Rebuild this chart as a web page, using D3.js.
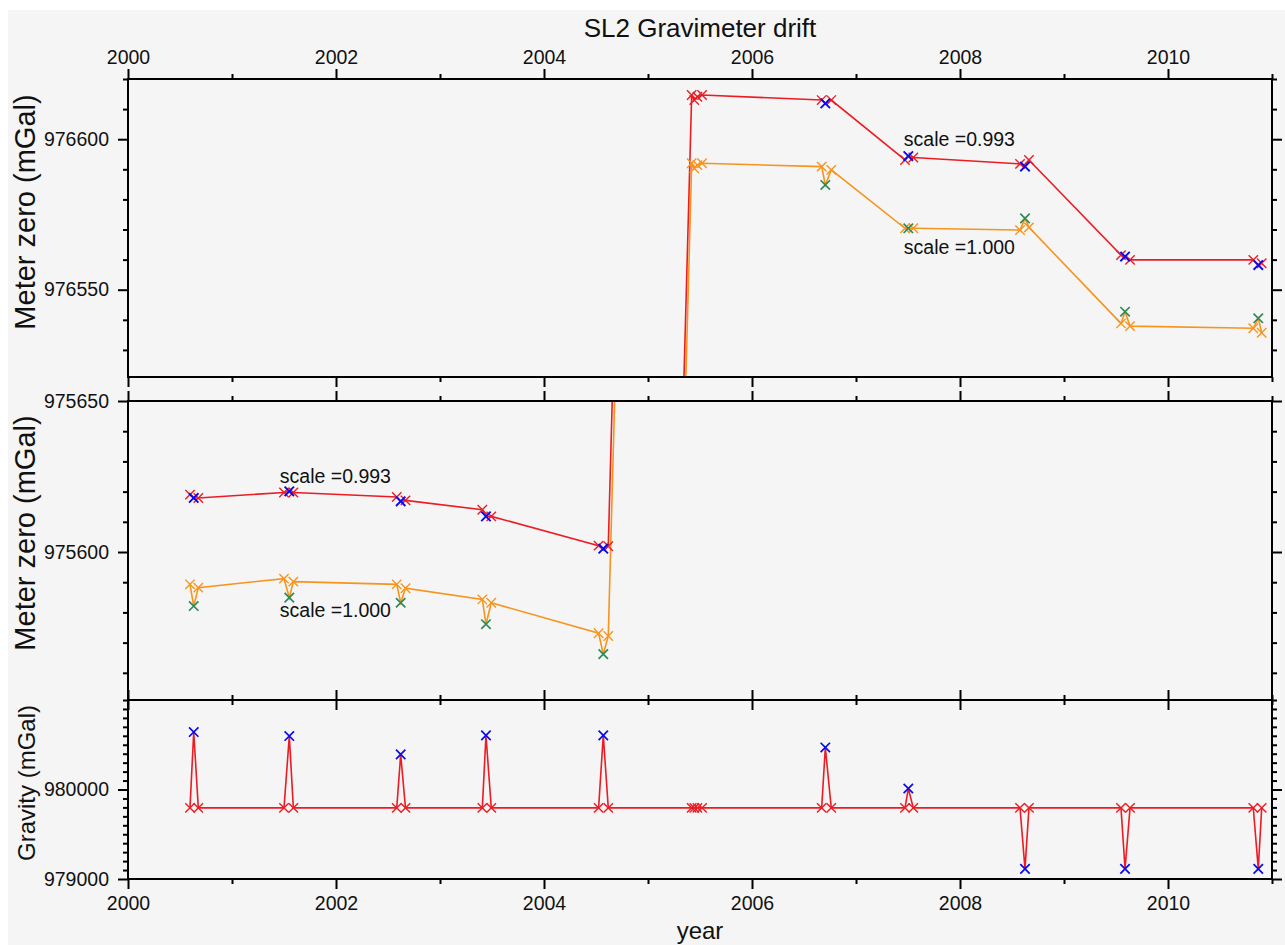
<!DOCTYPE html>
<html><head><meta charset="utf-8">
<script src="https://cdn.jsdelivr.net/npm/d3@7"></script>
<style>
html,body{margin:0;padding:0;background:#fff;}
svg{display:block;}
text{font-family:"Liberation Sans",Arial,Helvetica,sans-serif;fill:#111;}
</style></head><body>
<svg id="c" width="1285" height="945"></svg>
<script>
// ---------------- data ----------------
const baseTimes1   = [2000.596, 2001.500, 2002.584, 2003.407, 2004.525, 2006.670, 2007.471, 2008.577, 2009.548, 2010.820];
const stationTimes = [2000.632, 2001.551, 2002.622, 2003.442, 2004.570, 2006.705, 2007.503, 2008.625, 2009.587, 2010.868];
const baseTimes2   = [2000.676, 2001.590, 2002.668, 2003.493, 2004.618, 2006.762, 2007.551, 2008.663, 2009.635, 2010.901];
const clusterTimes = [2005.420, 2005.445, 2005.475, 2005.520];

// meter zero, scale = 0.993 (red line, blue station marks)
const redBase1    = [975619.0, 975619.7, 975618.2, 975614.0, 975602.1, 976613.0, 976593.1, 976591.8, 976561.5, 976559.9];
const redStation  = [975617.9, 975620.1, 975616.8, 975611.8, 975601.1, 976611.9, 976594.4, 976590.9, 976561.0, 976558.2];
const redBase2    = [975617.9, 975619.7, 975617.1, 975611.8, 975601.9, 976613.0, 976593.9, 976593.1, 976559.9, 976558.8];
const redCluster  = [976614.7, 976613.0, 976614.1, 976614.7];

// meter zero, scale = 1.000 (orange line, green station marks)
const orangeBase1   = [975589.3, 975591.2, 975589.3, 975584.3, 975573.1, 976590.9, 976570.4, 976569.8, 976538.8, 976537.2];
const greenStation  = [975582.1, 975584.9, 975583.2, 975576.1, 975566.2, 976584.8, 976570.4, 976573.7, 976542.7, 976540.5];
const orangeBase2   = [975588.2, 975590.2, 975588.0, 975583.2, 975572.2, 976589.8, 976570.4, 976570.7, 976537.9, 976535.7];
const orangeCluster = [976592.0, 976590.3, 976591.4, 976592.0];

// gravity (mGal)
const gravBase1   = [979795, 979795, 979795, 979795, 979795, 979795, 979795, 979795, 979795, 979795];
const gravStation = [980642, 980597, 980392, 980605, 980605, 980470, 980011, 979113, 979113, 979113];
const gravBase2   = [979795, 979795, 979795, 979795, 979795, 979795, 979795, 979795, 979795, 979795];
const gravCluster = [979795, 979795, 979795, 979795];

// ticks
const xMajor = [2000, 2002, 2004, 2006, 2008, 2010];
const xMinor = [2001, 2003, 2005, 2007, 2009, 2011];
const topMajor = [976550, 976600];
const topMinor = [976530, 976540, 976560, 976570, 976580, 976590, 976610, 976620];
const midMajor = [975600, 975650];
const midMinor = [975560, 975570, 975580, 975590, 975610, 975620, 975630, 975640];
const botMajor = [979000, 980000];
const botMinor = d3.range(979100, 981001, 100).filter(v => v !== 980000);

const scaleLabels = [
  {panel:0, t:2007.46, v:976597.6, text:"scale =0.993"},
  {panel:0, t:2007.46, v:976562.0, text:"scale =1.000"},
  {panel:1, t:2001.46, v:975622.8, text:"scale =0.993"},
  {panel:1, t:2001.46, v:975578.4, text:"scale =1.000"}
];

// ---------------- build ----------------
function seqOf(b1, st, b2, cl) {
  const s = [];
  for (let i = 0; i < b1.length; i++) {
    s.push({t: baseTimes1[i], v: b1[i], k: "b"});
    s.push({t: stationTimes[i], v: st[i], k: "s"});
    s.push({t: baseTimes2[i], v: b2[i], k: "b"});
  }
  clusterTimes.forEach((t, j) => s.push({t, v: cl[j], k: "b"}));
  return s.sort((a, b) => a.t - b.t);
}
const redSeq = seqOf(redBase1, redStation, redBase2, redCluster);
const orangeSeq = seqOf(orangeBase1, greenStation, orangeBase2, orangeCluster);
const gravSeq = seqOf(gravBase1, gravStation, gravBase2, gravCluster);

const svg = d3.select("#c");
svg.append("rect").attr("x", 8).attr("y", 10).attr("width", 1285 - 8).attr("height", 945 - 10).attr("fill", "#f5f5f5");

const X0 = 128, X1 = 1272;
const x = d3.scaleLinear().domain([2000, 2011]).range([X0, X1]);

const panels = [
  {y0: 79, y1: 377, domain: [976521, 976620], major: topMajor, minor: topMinor, title: "Meter zero (mGal)", ty: 212, fs: 29},
  {y0: 401, y1: 700, domain: [975551, 975650], major: midMajor, minor: midMinor, title: "Meter zero (mGal)", ty: 533, fs: 29},
  {y0: 700, y1: 879, domain: [979000, 981000], major: botMajor, minor: botMinor, title: "Gravity (mGal)", ty: 783, fs: 24}
];
panels.forEach(p => p.y = d3.scaleLinear().domain(p.domain).range([p.y1, p.y0]));

const RED = "#ec1c24", ORANGE = "#f7941d", BLUE = "#0a0aee", GREEN = "#2e8b57";
const cross = "M-4.7,-4.7L4.7,4.7M-4.7,4.7L4.7,-4.7";

function styleAxis(g, labels, fs) {
  g.select(".domain").remove();
  g.selectAll(".tick line").attr("stroke", "#000").attr("stroke-width", 2);
  g.selectAll(".tick text").attr("fill", "#111").style("font-size", fs + "px")
   .style("font-family", '"Liberation Sans",Arial,Helvetica,sans-serif');
  if (!labels) g.selectAll(".tick text").remove();
}

panels.forEach((p, i) => {
  const clipId = "clip" + i;
  svg.append("clipPath").attr("id", clipId).append("rect")
    .attr("x", X0).attr("y", p.y0).attr("width", X1 - X0).attr("height", p.y1 - p.y0);
  const g = svg.append("g").attr("clip-path", `url(#${clipId})`);

  const line = d3.line().x(d => x(d.t)).y(d => p.y(d.v));
  if (i < 2) {
    g.append("path").datum(orangeSeq).attr("d", line).attr("fill", "none").attr("stroke", ORANGE).attr("stroke-width", 1.6);
    g.append("path").datum(redSeq).attr("d", line).attr("fill", "none").attr("stroke", RED).attr("stroke-width", 1.6);
    g.selectAll(".ob").data(orangeSeq.filter(d => d.k === "b")).join("path")
      .attr("d", cross).attr("transform", d => `translate(${x(d.t)},${p.y(d.v)})`)
      .attr("stroke", ORANGE).attr("stroke-width", 1.4).attr("fill", "none");
    g.selectAll(".os").data(orangeSeq.filter(d => d.k === "s")).join("path")
      .attr("d", cross).attr("transform", d => `translate(${x(d.t)},${p.y(d.v)})`)
      .attr("stroke", GREEN).attr("stroke-width", 1.7).attr("fill", "none");
    g.selectAll(".rb").data(redSeq.filter(d => d.k === "b")).join("path")
      .attr("d", cross).attr("transform", d => `translate(${x(d.t)},${p.y(d.v)})`)
      .attr("stroke", RED).attr("stroke-width", 1.4).attr("fill", "none");
    g.selectAll(".rs").data(redSeq.filter(d => d.k === "s")).join("path")
      .attr("d", cross).attr("transform", d => `translate(${x(d.t)},${p.y(d.v)})`)
      .attr("stroke", BLUE).attr("stroke-width", 1.9).attr("fill", "none");
  } else {
    g.append("path").datum(gravSeq).attr("d", line).attr("fill", "none").attr("stroke", RED).attr("stroke-width", 1.6);
    g.selectAll(".gb").data(gravSeq.filter(d => d.k === "b")).join("path")
      .attr("d", cross).attr("transform", d => `translate(${x(d.t)},${p.y(d.v)})`)
      .attr("stroke", RED).attr("stroke-width", 1.4).attr("fill", "none");
    g.selectAll(".gs").data(gravSeq.filter(d => d.k === "s")).join("path")
      .attr("d", cross).attr("transform", d => `translate(${x(d.t)},${p.y(d.v)})`)
      .attr("stroke", BLUE).attr("stroke-width", 1.7).attr("fill", "none");
  }

  // axes: left
  svg.append("g").attr("transform", `translate(${X0},0)`)
    .call(d3.axisLeft(p.y).tickValues(p.major).tickSize(10).tickPadding(9).tickFormat(d3.format("d")))
    .call(g => styleAxis(g, true, 19.5));
  svg.append("g").attr("transform", `translate(${X0},0)`)
    .call(d3.axisLeft(p.y).tickValues(p.minor).tickSize(5))
    .call(g => styleAxis(g, false));
  // right
  svg.append("g").attr("transform", `translate(${X1},0)`)
    .call(d3.axisRight(p.y).tickValues(p.major).tickSize(10))
    .call(g => styleAxis(g, false));
  svg.append("g").attr("transform", `translate(${X1},0)`)
    .call(d3.axisRight(p.y).tickValues(p.minor).tickSize(5))
    .call(g => styleAxis(g, false));
  // top
  svg.append("g").attr("transform", `translate(0,${p.y0})`)
    .call(d3.axisTop(x).tickValues(xMajor).tickSize(10).tickPadding(5).tickFormat(d3.format("d")))
    .call(g => styleAxis(g, i === 0, 19.5));
  svg.append("g").attr("transform", `translate(0,${p.y0})`)
    .call(d3.axisTop(x).tickValues(xMinor).tickSize(5))
    .call(g => styleAxis(g, false));
  // bottom
  svg.append("g").attr("transform", `translate(0,${p.y1})`)
    .call(d3.axisBottom(x).tickValues(xMajor).tickSize(10).tickPadding(7).tickFormat(d3.format("d")))
    .call(g => styleAxis(g, i === 2, 19.5));
  svg.append("g").attr("transform", `translate(0,${p.y1})`)
    .call(d3.axisBottom(x).tickValues(xMinor).tickSize(5))
    .call(g => styleAxis(g, false));

  // frame
  svg.append("rect").attr("x", X0).attr("y", p.y0).attr("width", X1 - X0).attr("height", p.y1 - p.y0)
    .attr("fill", "none").attr("stroke", "#000").attr("stroke-width", 2);

  // y title
  svg.append("text").attr("transform", `translate(35,${p.ty}) rotate(-90)`)
    .attr("text-anchor", "middle").style("font-size", p.fs + "px").text(p.title);
});

scaleLabels.forEach(l => {
  const p = panels[l.panel];
  svg.append("text").attr("x", x(l.t)).attr("y", p.y(l.v)).style("font-size", "19.5px").text(l.text);
});

svg.append("text").attr("x", (X0 + X1) / 2).attr("y", 37).attr("text-anchor", "middle")
  .style("font-size", "26px").text("SL2 Gravimeter drift");
svg.append("text").attr("x", (X0 + X1) / 2).attr("y", 939).attr("text-anchor", "middle")
  .style("font-size", "24px").text("year");
</script>
</body></html>
